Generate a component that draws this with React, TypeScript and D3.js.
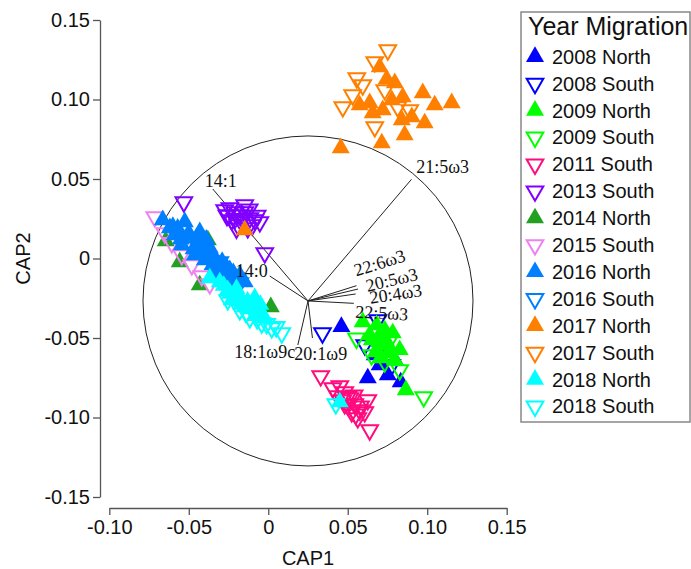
import React, { useEffect, useRef } from "react";
import * as d3 from "d3";

// CAP1 / CAP2 scores per group
const n2008 = [[0.046, -0.0429], [0.0626, -0.0752], [0.0752, -0.0733], [0.0833, -0.0777], [0.067, -0.0607], [0.0733, -0.0575], [0.0701, -0.067], [0.0796, -0.0638]];
const s2008 = [[0.0341, -0.0469], [0.0689, -0.0387], [0.0607, -0.0544], [0.0777, -0.067]];
const n2009 = [[0.0594, -0.0399], [0.0682, -0.0418], [0.0783, -0.0469], [0.0651, -0.0513], [0.0701, -0.0544], [0.0739, -0.0513], [0.0676, -0.0588], [0.0764, -0.0588], [0.0714, -0.0626], [0.0796, -0.0638], [0.0638, -0.0481], [0.0733, -0.045], [0.0827, -0.0575], [0.0865, -0.0827], [0.0705, -0.0475], [0.0755, -0.0545]];
const s2009 = [[0.0555, -0.0502], [0.0978, -0.0871], [0.065, -0.0607], [0.0827, -0.0701], [0.0733, -0.0651], [0.0701, -0.0575], [0.0764, -0.0513]];
const s2011 = [[0.033, -0.0739], [0.0406, -0.0814], [0.045, -0.0802], [0.0481, -0.084], [0.0437, -0.0865], [0.0513, -0.0877], [0.0544, -0.0915], [0.0481, -0.0915], [0.0575, -0.0953], [0.0525, -0.0965], [0.0563, -0.1003], [0.0607, -0.0965], [0.0626, -0.089], [0.0638, -0.1079], [0.05, -0.087], [0.055, -0.098], [0.058, -0.093], [0.05, -0.092], [0.054, -0.086], [0.047, -0.089]];
const s2013 = [[-0.0274, 0.0305], [-0.0242, 0.0318], [-0.0211, 0.0292], [-0.0179, 0.0274], [-0.0148, 0.0292], [-0.0116, 0.0255], [-0.0085, 0.0242], [-0.023, 0.0242], [-0.0192, 0.0211], [-0.0255, 0.0274], [-0.0053, 0.023], [-0.0129, 0.0192], [-0.0148, 0.0336], [-0.0531, 0.0355], [-0.0022, 0.0035], [-0.021, 0.025], [-0.017, 0.023], [-0.01, 0.021], [-0.007, 0.027], [-0.012, 0.031], [-0.026, 0.027], [-0.02, 0.019]];
const n2014 = [[-0.0645, 0.011], [-0.0557, -0.0022], [-0.038, 0.0116], [-0.0431, -0.0167], [0.0016, -0.0305]];
const s2015 = [[-0.0714, 0.0261], [-0.0651, 0.016], [-0.0607, 0.0098], [-0.0544, 0.0022], [-0.0481, -0.0041], [-0.0418, -0.011], [-0.0368, -0.016]];
const n2016 = [[-0.0664, 0.0242], [-0.0525, 0.023], [-0.0588, 0.0148], [-0.0494, 0.0129], [-0.0431, 0.0085], [-0.0462, 0.0022], [-0.0368, 0.0066], [-0.0399, -0.0009], [-0.0336, 0.0003], [-0.0305, -0.0041], [-0.0274, -0.0085], [-0.0242, -0.0072], [-0.0211, -0.0123], [-0.0179, -0.0104], [-0.0336, -0.0072], [-0.0544, 0.0085], [-0.0619, 0.0192], [-0.0255, -0.0167], [-0.0148, -0.0148], [-0.0431, 0.0167], [-0.057, 0.019], [-0.05, 0.016], [-0.047, 0.006], [-0.041, 0.003], [-0.038, 0.001], [-0.035, -0.004], [-0.029, -0.002], [-0.026, -0.006], [-0.022, -0.009], [-0.019, -0.014], [-0.039, 0.012], [-0.045, 0.013], [-0.055, 0.012], [-0.06, 0.02], [-0.032, -0.01]];
const s2016 = [[-0.0462, 0.0116], [-0.0305, -0.0022], [-0.0179, -0.0154]];
const n2017 = [[0.0456, 0.0695], [0.0714, 0.0726], [0.0858, 0.0777], [0.0972, 0.1041], [0.1047, 0.0965], [0.1154, 0.0978], [0.0984, 0.0852], [0.0903, 0.089], [0.084, 0.0871], [0.0657, 0.0915], [0.072, 0.0934], [0.0745, 0.1128], [0.0796, 0.1104], [0.0701, 0.1204], [0.0638, 0.0978], [0.0846, 0.1016], [-0.0148, 0.0179], [0.0575, 0.0965], [0.0777, 0.0997]];
const s2017 = [[0.0752, 0.1311], [0.0557, 0.1135], [0.0469, 0.0953], [0.0531, 0.1028], [0.067, 0.1236], [0.0594, 0.1091], [0.067, 0.0827], [0.0814, 0.0953], [0.089, 0.0934], [0.0733, 0.106]];
const n2018 = [[-0.0305, -0.0148], [-0.0255, -0.0198], [-0.0211, -0.023], [-0.0167, -0.0261], [-0.0116, -0.0292], [-0.0085, -0.0248], [-0.0066, -0.0336], [-0.0148, -0.0305], [-0.023, -0.0261], [-0.0022, -0.0374], [0.045, -0.0903], [-0.0368, -0.0123], [-0.028, -0.017], [-0.024, -0.022], [-0.019, -0.025], [-0.013, -0.027], [-0.01, -0.031], [-0.005, -0.029], [-0.017, -0.029], [-0.008, -0.036], [-0.02, -0.019]];
const s2018 = [[-0.0041, -0.0406], [0.0022, -0.0437], [0.0085, -0.0469], [-0.0116, -0.0374], [-0.0179, -0.0324], [0.0425, -0.0915], [-0.0255, -0.0261], [-0.007, -0.038], [0.005, -0.043], [-0.014, -0.034], [-0.001, -0.041]];

const groupNames = ["2008 North", "2008 South", "2009 North", "2009 South", "2011 South", "2013 South", "2014 North", "2015 South", "2016 North", "2016 South", "2017 North", "2017 South", "2018 North", "2018 South"];
const groupColors = ["#0000ff", "#0000ff", "#00ff00", "#00ff00", "#ff0a7f", "#8000ff", "#22a022", "#ee82ee", "#0080ff", "#0080ff", "#ff8000", "#ff8000", "#00ffff", "#00ffff"];
const groupPoints = [n2008, s2008, n2009, s2009, s2011, s2013, n2014, s2015, n2016, s2016, n2017, s2017, n2018, s2018];

// fatty acid vectors
const vecNames = ["21:5ω3", "14:1", "14:0", "22:6ω3", "20:5ω3", "20:4ω3", "22:5ω3", "18:1ω9c", "20:1ω9"];
const vecEnds = [[0.0901, 0.0498], [-0.0349, 0.0437], [0.0009, -0.011], [0.0555, -0.0171], [0.0565, -0.0192], [0.055, -0.0223], [0.0538, -0.0282], [0.0186, -0.0544], [0.0278, -0.05]];
const vecLabels = [[0.1097, 0.0575], [-0.0299, 0.0487], [-0.0104, -0.0079], [0.0701, -0.0028], [0.0777, -0.0135], [0.0802, -0.0223], [0.0714, -0.0343], [-0.0022, -0.0588], [0.033, -0.0601]];
const vecRotate = [false, false, false, true, true, true, true, false, false];
const vecOrigin = [0.025, -0.0267];
const circleRadius = 0.1038;

const xTicks = [-0.1, -0.05, 0, 0.05, 0.1, 0.15];
const xTickLabels = ["-0.10", "-0.05", "0", "0.05", "0.10", "0.15"];
const yTicks = [0.15, 0.1, 0.05, 0, -0.05, -0.1, -0.15];
const yTickLabels = ["0.15", "0.10", "0.05", "0", "-0.05", "-0.10", "-0.15"];

const W = 691;
const H = 569;
const sans = "'Liberation Sans', Arial, sans-serif";
const serif = "'Liberation Serif', 'Times New Roman', serif";

const x = d3.scaleLinear().domain([-0.1, 0.15]).range([109.3, 506.7]);
const y = d3.scaleLinear().domain([-0.15, 0.15]).range([497, 20]);

const triangle = (up: boolean, r: number) => {
  const c = Math.cos(Math.PI / 6) * r;
  const s = up ? 1 : -1;
  return `M0,${-s * r}L${c},${s * r / 2}L${-c},${s * r / 2}Z`;
};

const Marker = ({ cx, cy, color, up }: { cx: number; cy: number; color: string; up: boolean }) =>
  up ? (
    <path d={triangle(true, 10.4)} transform={`translate(${cx},${cy})`} fill={color} />
  ) : (
    <path d={triangle(false, 9.6)} transform={`translate(${cx},${cy})`} fill="none" stroke={color} strokeWidth={2} />
  );

export default function App() {
  const xAxisRef = useRef<SVGGElement>(null);
  const yAxisRef = useRef<SVGGElement>(null);

  useEffect(() => {
    const xa = d3.axisBottom(x).tickValues(xTicks).tickSize(7).tickSizeOuter(0).tickPadding(5)
      .tickFormat((d, i) => xTickLabels[i]);
    const ya = d3.axisLeft(y).tickValues(yTicks).tickSize(7).tickSizeOuter(0).tickPadding(3)
      .tickFormat((d, i) => yTickLabels[i]);
    for (const [ref, axis] of [[xAxisRef, xa], [yAxisRef, ya]] as any) {
      const g = d3.select(ref.current);
      g.call(axis);
      g.selectAll("path, line").attr("stroke", "#555").attr("stroke-width", 1.3);
      g.selectAll("text").attr("fill", "#111").style("font-family", sans).style("font-size", "20px");
    }
  }, []);

  const ox = x(vecOrigin[0]);
  const oy = y(vecOrigin[1]);
  const rad = x(vecOrigin[0] + circleRadius) - ox;

  return (
    <svg width={W} height={H} style={{ position: "absolute", left: 0, top: 0, background: "#fff" }}>
      <g ref={xAxisRef} transform="translate(0,508)" />
      <g ref={yAxisRef} transform="translate(100,0)" />
      <text x={(x(-0.1) + x(0.15)) / 2} y={565} textAnchor="middle" fontFamily={sans} fontSize={20} fill="#111">CAP1</text>
      <text transform={`translate(30,${(y(-0.15) + y(0.15)) / 2}) rotate(-90)`} textAnchor="middle" fontFamily={sans} fontSize={20} fill="#111">CAP2</text>

      <circle cx={ox} cy={oy} r={rad} fill="none" stroke="#222" strokeWidth={1} />
      {vecEnds.map((v, i) => (
        <line key={i} x1={ox} y1={oy} x2={x(v[0])} y2={y(v[1])} stroke="#222" strokeWidth={1} />
      ))}

      {groupPoints.map((pts, g) =>
        pts.map((p, i) => (
          <Marker key={`${g}-${i}`} cx={x(p[0])} cy={y(p[1])} color={groupColors[g]} up={groupNames[g].endsWith("North")} />
        ))
      )}

      {vecNames.map((name, i) => {
        const lx = x(vecLabels[i][0]);
        const ly = y(vecLabels[i][1]);
        const ang = vecRotate[i]
          ? (Math.atan2(y(vecEnds[i][1]) - oy, x(vecEnds[i][0]) - ox) * 180) / Math.PI
          : 0;
        return (
          <text key={name} transform={`translate(${lx},${ly}) rotate(${ang})`} textAnchor="middle" dominantBaseline="central"
            fontFamily={serif} fontSize={18} fill="#111">{name}</text>
        );
      })}

      <g>
        <rect x={521} y={12} width={169} height={410} fill="#fff" stroke="#888" strokeWidth={1.5} />
        <text x={528} y={35} fontFamily={sans} fontSize={25} fill="#111">Year Migration</text>
        {groupNames.map((name, i) => {
          const cy = 56.7 + i * 26.9;
          return (
            <g key={name}>
              <Marker cx={535} cy={cy} color={groupColors[i]} up={name.endsWith("North")} />
              <text x={552} y={cy + 7} fontFamily={sans} fontSize={20} fill="#111">{name}</text>
            </g>
          );
        })}
      </g>
    </svg>
  );
}
